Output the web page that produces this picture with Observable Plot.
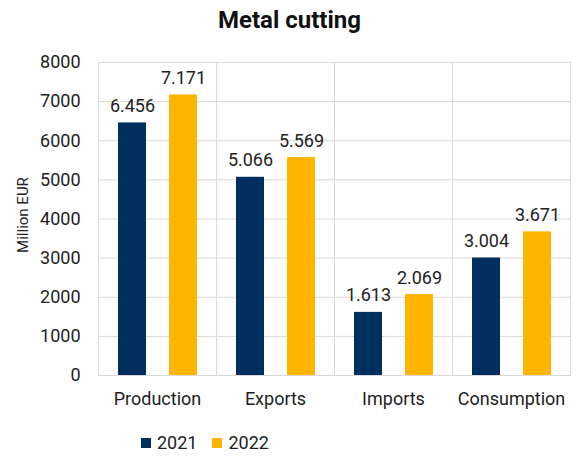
<!DOCTYPE html>
<html><head><meta charset="utf-8">
<script src="https://cdn.jsdelivr.net/npm/d3@7"></script>
<script src="https://cdn.jsdelivr.net/npm/@observablehq/plot@0.6"></script>
<style>
body{margin:0;background:#fff;font-family:Roboto,"Noto Sans",sans-serif;}
#wrap{position:relative;width:579px;height:456px;overflow:hidden;}
#title{position:absolute;left:0;top:5px;width:579px;text-align:center;font-weight:bold;font-size:24px;line-height:30px;color:#111;}
#chart{position:absolute;left:0;top:40px;}
#ylabel{position:absolute;left:23px;top:215px;transform:translate(-50%,-50%) rotate(-90deg);font-size:15px;line-height:18px;color:#222;white-space:nowrap;}
#legend{position:absolute;left:141px;top:432px;font-size:18px;line-height:22px;color:#222;display:flex;align-items:center;}
#legend span.sw{display:inline-block;width:10px;height:10px;margin-right:6px;}
#legend span.lab{margin-right:15px;}
</style></head>
<body>
<div id="wrap">
<div id="title">Metal cutting</div>
<div id="chart"></div>
<div id="ylabel">Million EUR</div>
<div id="legend"></div>
</div>
<script>
const categories = ["Production", "Exports", "Imports", "Consumption"];
const years = ["2021", "2022"];
const values2021 = [6456, 5066, 1613, 3004];
const values2022 = [7171, 5569, 2069, 3671];
const yTicks = [0, 1000, 2000, 3000, 4000, 5000, 6000, 7000, 8000];
const colors = ["#002e5e", "#ffb400"];

const data = [];
categories.forEach((c, i) => {
  data.push({category: c, year: years[0], value: values2021[i]});
  data.push({category: c, year: years[1], value: values2022[i]});
});
const fmt = d3.formatLocale({decimal: ",", thousands: ".", grouping: [3]}).format(",");

const chart = Plot.plot({
  width: 579,
  height: 380,
  marginLeft: 98,
  marginRight: 9,
  marginTop: 22,
  marginBottom: 45,
  style: {fontFamily: "Roboto, sans-serif", fontSize: "18px", color: "#222", background: "#fff"},
  fx: {domain: categories, padding: 0, label: null},
  x: {domain: years, paddingInner: 0.46, paddingOuter: 0.37, axis: null},
  y: {domain: [0, 8000], label: null},
  color: {domain: years, range: colors},
  marks: [
    Plot.gridY(yTicks, {stroke: "#d9d9d9", strokeOpacity: 1}),
    Plot.frame({stroke: "#d9d9d9"}),
    Plot.barY(data, {fx: "category", x: "year", y: "value", fill: "year"}),
    Plot.text(data, {fx: "category", x: "year", y: "value", text: d => fmt(d.value), lineAnchor: "bottom", dy: -11, fontSize: 18, fill: "#222"}),
    Plot.axisY(yTicks, {tickSize: 0, tickPadding: 18, tickFormat: d => String(d), fontSize: 18, label: null}),
    Plot.axisFx({anchor: "bottom", tickSize: 0, tickPadding: 17, fontSize: 18, label: null})
  ]
});
document.getElementById("chart").appendChild(chart);

const legend = document.getElementById("legend");
years.forEach((y, i) => {
  const sw = document.createElement("span"); sw.className = "sw"; sw.style.background = colors[i];
  const lab = document.createElement("span"); lab.className = "lab"; lab.textContent = y;
  legend.appendChild(sw); legend.appendChild(lab);
});
</script>
</body></html>
